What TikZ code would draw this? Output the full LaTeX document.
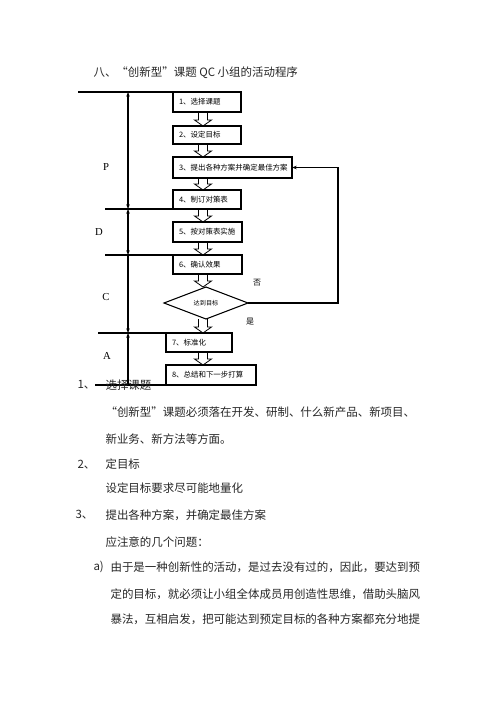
\documentclass[tikz,border=0pt]{standalone}
\usepackage{fontspec}
\setmainfont{Noto Sans CJK SC}
\newfontfamily\phasefont{Liberation Serif}
\usetikzlibrary{shapes.geometric,calc,arrows.meta}

\tikzset{
  stepbox/.style={draw,line width=0.8pt,anchor=north west,inner xsep=4.5pt,inner ysep=0pt,outer sep=0pt,
    align=left,font=\fontsize{5.6pt}{6.5pt}\selectfont},
  hollow/.style={draw,line width=0.6pt},
  body/.style={anchor=west,inner sep=0pt,font=\fontsize{8.6pt}{10pt}\selectfont,text=black!85},
  phase/.style={font=\phasefont\fontsize{8pt}{9pt}\selectfont,inner sep=0pt},
}

% hollow block arrow between two steps
\newcommand{\fatarrow}[2]{%
  \draw[hollow] ($(#1.south -| axis)+(-4.5,0)$) -- ($(#2.north -| axis)+(-4.5,-6)$) -- ++(-4,0)
    -- (#2.north -| axis) -- ++(8.5,-6) -- ++(-4,0) -- ($(#1.south -| axis)+(4.5,0)$);}

\begin{document}
\begin{tikzpicture}[x=0.75pt,y=-0.75pt,line width=0.8pt,>={Stealth[length=3.5pt,width=2.6pt]}]
  \useasboundingbox (0,0) rectangle (496,702);

  \node[body,anchor=west] (title) at (93,73) {八、“创新型”课题 QC 小组的活动程序};

  \coordinate (axis) at (203,0);

  \node[stepbox,text width=42pt,minimum height=15pt] (s1) at (173,92) {1、选择课题};
  \node[stepbox,text width=42pt,minimum height=13.5pt] (s2) at (173,126) {2、设定目标};
  \node[stepbox,text width=80.25pt,minimum height=15.75pt] (s3) at (173,157) {3、提出各种方案并确定最佳方案};
  \node[stepbox,text width=42pt,minimum height=14.25pt] (s4) at (173,190) {4、制订对策表};
  \node[stepbox,text width=42.75pt,minimum height=15pt] (s5) at (173,222) {5、按对策表实施};
  \node[stepbox,text width=42.75pt,minimum height=14.25pt] (s6) at (173,255) {6、确认效果};
  \node[draw,diamond,inner sep=0pt,outer sep=0pt,minimum width=63pt,minimum height=24pt,
    font=\fontsize{4.6pt}{5pt}\selectfont] (check) at (206,303) {达到目标};
  \node[stepbox,text width=40.5pt,minimum height=14.25pt] (s7) at (166,333) {7、标准化};
  \node[stepbox,text width=58.5pt,minimum height=15pt] (s8) at (166,365) {8、总结和下一步打算};

  \fatarrow{s1}{s2}
  \fatarrow{s2}{s3}
  \fatarrow{s3}{s4}
  \fatarrow{s4}{s5}
  \fatarrow{s5}{s6}
  \fatarrow{s6}{check}
  \fatarrow{check}{s7}
  \fatarrow{s7}{s8}

  % loop back when the target is not reached
  \coordinate (back) at (338,235);
  \draw[->] (check.east) -| (back) |- (s3.east);
  \node[font=\fontsize{6pt}{7pt}\selectfont,inner sep=0pt] (no) at (257,283) {否};
  \node[font=\fontsize{6pt}{7pt}\selectfont,inner sep=0pt] (yes) at (250,322) {是};

  % phase borders
  \coordinate (l0) at (78,92);
  \coordinate (l1) at (105,209);
  \coordinate (l2) at (105,255);
  \coordinate (l3) at (98,333);
  \coordinate (l4) at (95,385);
  \draw (l0) -- (l0 -| s1.west);
  \draw (l1) -- (l1 -| s4.west);
  \draw (l2) -- (l2 -| s6.west);
  \draw (l3) -- (l3 -| s7.west);
  \draw (l4) -- (l4 -| s8.west);

  \coordinate (v0) at (128,92);
  \coordinate (v1) at (128,209);
  \coordinate (v2) at (128,255);
  \coordinate (v3) at (128,333);
  \coordinate (v4) at (128,385);
  \draw[<->] (v0) -- (v1);
  \draw[<->] (v1) -- (v2);
  \draw[->] (v2) -- (v3);
  \draw[<-] (v3) -- (v4);

  \node[phase] (P) at (106,167) {P};
  \node[phase] (D) at (99,232) {D};
  \node[phase] (C) at (106,297) {C};
  \node[phase] (A) at (107,356) {A};

  % text below the chart
  \node[body] (n1) at (77,385) {1、};
  \node[body] (t1) at (105,385) {选择课题};
  \node[body] (t1a) at (105,412) {“创新型”课题必须落在开发、研制、什么新产品、新项目、};
  \node[body] (t1b) at (105,439) {新业务、新方法等方面。};
  \node[body] (n2) at (77,465) {2、};
  \node[body] (t2) at (105,464) {定目标};
  \node[body] (t2a) at (105,488) {设定目标要求尽可能地量化};
  \node[body] (n3) at (75,515) {3、};
  \node[body] (t3) at (105,515) {提出各种方案，并确定最佳方案};
  \node[body] (t3a) at (105,542) {应注意的几个问题：};
  \node[body] (na) at (93,567) {a)};
  \node[body] (ta1) at (110,567) {由于是一种创新性的活动，是过去没有过的，因此，要达到预};
  \node[body] (ta2) at (110,594) {定的目标，就必须让小组全体成员用创造性思维，借助头脑风};
  \node[body] (ta3) at (110,619) {暴法，互相启发，把可能达到预定目标的各种方案都充分地提};
\end{tikzpicture}
\end{document}
